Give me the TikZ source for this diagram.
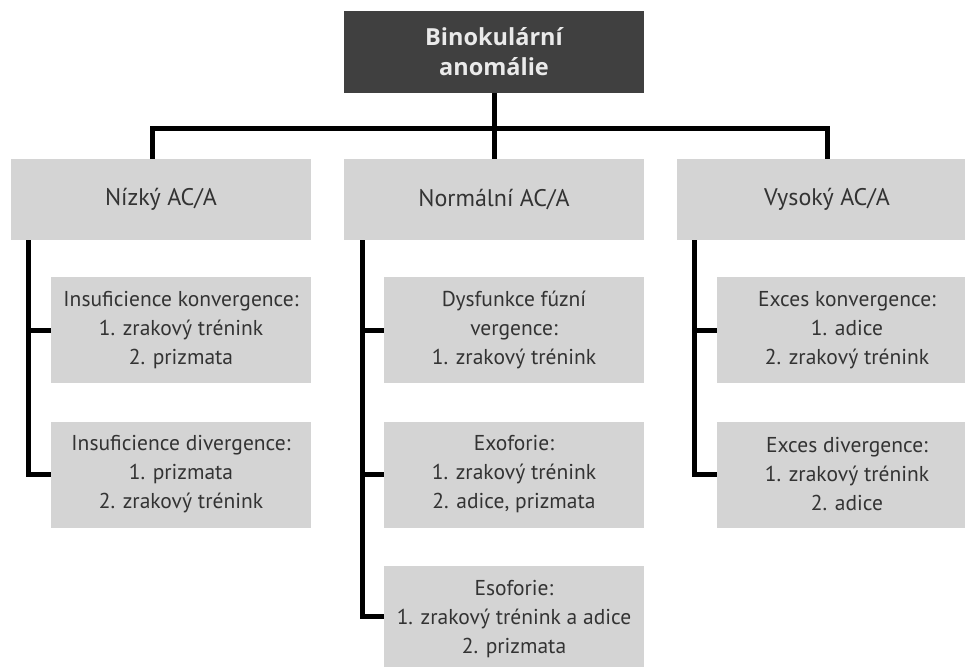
\documentclass[tikz,border=0pt]{standalone}
\usepackage{fontspec}
\setmainfont{PT Sans}
\newfontfamily\topfont{Open Sans}
\definecolor{boxgray}{HTML}{D4D4D4}
\definecolor{topgray}{HTML}{404040}
\definecolor{txtgray}{HTML}{333333}
\definecolor{toptxt}{HTML}{EAEAEA}
\tikzset{
  topbox/.style={fill=topgray, text=toptxt, minimum width=300pt, minimum height=82pt,
    align=center, inner sep=0pt, font=\topfont\fontsize{23.5}{30}\selectfont\bfseries},
  lvlbox/.style={fill=boxgray, text=txtgray, minimum width=300pt, minimum height=81pt,
    align=center, inner sep=0pt, font=\fontsize{24}{28}\selectfont},
  subbox/.style={fill=boxgray, text=txtgray, minimum width=260pt, minimum height=106pt,
    align=center, inner sep=0pt, font=\fontsize{21.5}{29}\selectfont},
  conn/.style={draw=black, line width=5pt, line join=miter}
}
\begin{document}
\begin{tikzpicture}[x=1pt,y=-1pt]
\useasboundingbox[fill=white] (0,0) rectangle (965,666);
% top
\node[topbox] (top) at (494,52) {Binokulární\\anomálie};
% level 2
\node[lvlbox] (low) at (161,199.5) {Nízký AC/A};
\node[lvlbox] (mid) at (494,199.5) {Normální AC/A};
\node[lvlbox] (high) at (827,199.5) {Vysoký AC/A};
% sub boxes
\node[subbox] (lowA) at (181,330) {Insuficience konvergence:\\1. zrakový trénink\\2. prizmata};
\node[subbox] (lowB) at (181,474.5) {Insuficience divergence:\\1. prizmata\\2. zrakový trénink};
\node[subbox] (midA) at (514,330) {Dysfunkce fúzní\\vergence:\\1. zrakový trénink};
\node[subbox] (midB) at (514,474.5) {Exoforie:\\1. zrakový trénink\\2. adice, prizmata};
\node[subbox] (midC) at (514,619) {Esoforie:\\1. zrakový trénink a adice\\2. prizmata};
\node[subbox] (highA) at (847,330) {Exces konvergence:\\1. adice\\2. zrakový trénink};
\node[subbox] (highB) at (847,474.5) {Exces divergence:\\1. zrakový trénink\\2. adice};
% bus
\coordinate (busL) at (152,128);
\coordinate (busR) at (827,128);
\draw[conn] (busL |- low.north) -- (busL) -- (busR) -- (busR |- high.north);
\draw[conn] (top.south) -- (top.south |- mid.north);
% branches
\draw[conn] ([xshift=18pt]low.south west) |- (lowB.west);
\draw[conn] ([xshift=18pt]low.south west |- lowA.west) -- (lowA.west);
\draw[conn] ([xshift=19pt]mid.south west) |- ([yshift=3pt]midC.west);
\draw[conn] ([xshift=19pt]mid.south west |- midA.west) -- (midA.west);
\draw[conn] ([xshift=19pt]mid.south west |- midB.west) -- (midB.west);
\draw[conn] ([xshift=18pt]high.south west) |- (highB.west);
\draw[conn] ([xshift=18pt]high.south west |- highA.west) -- (highA.west);
\end{tikzpicture}
\end{document}
